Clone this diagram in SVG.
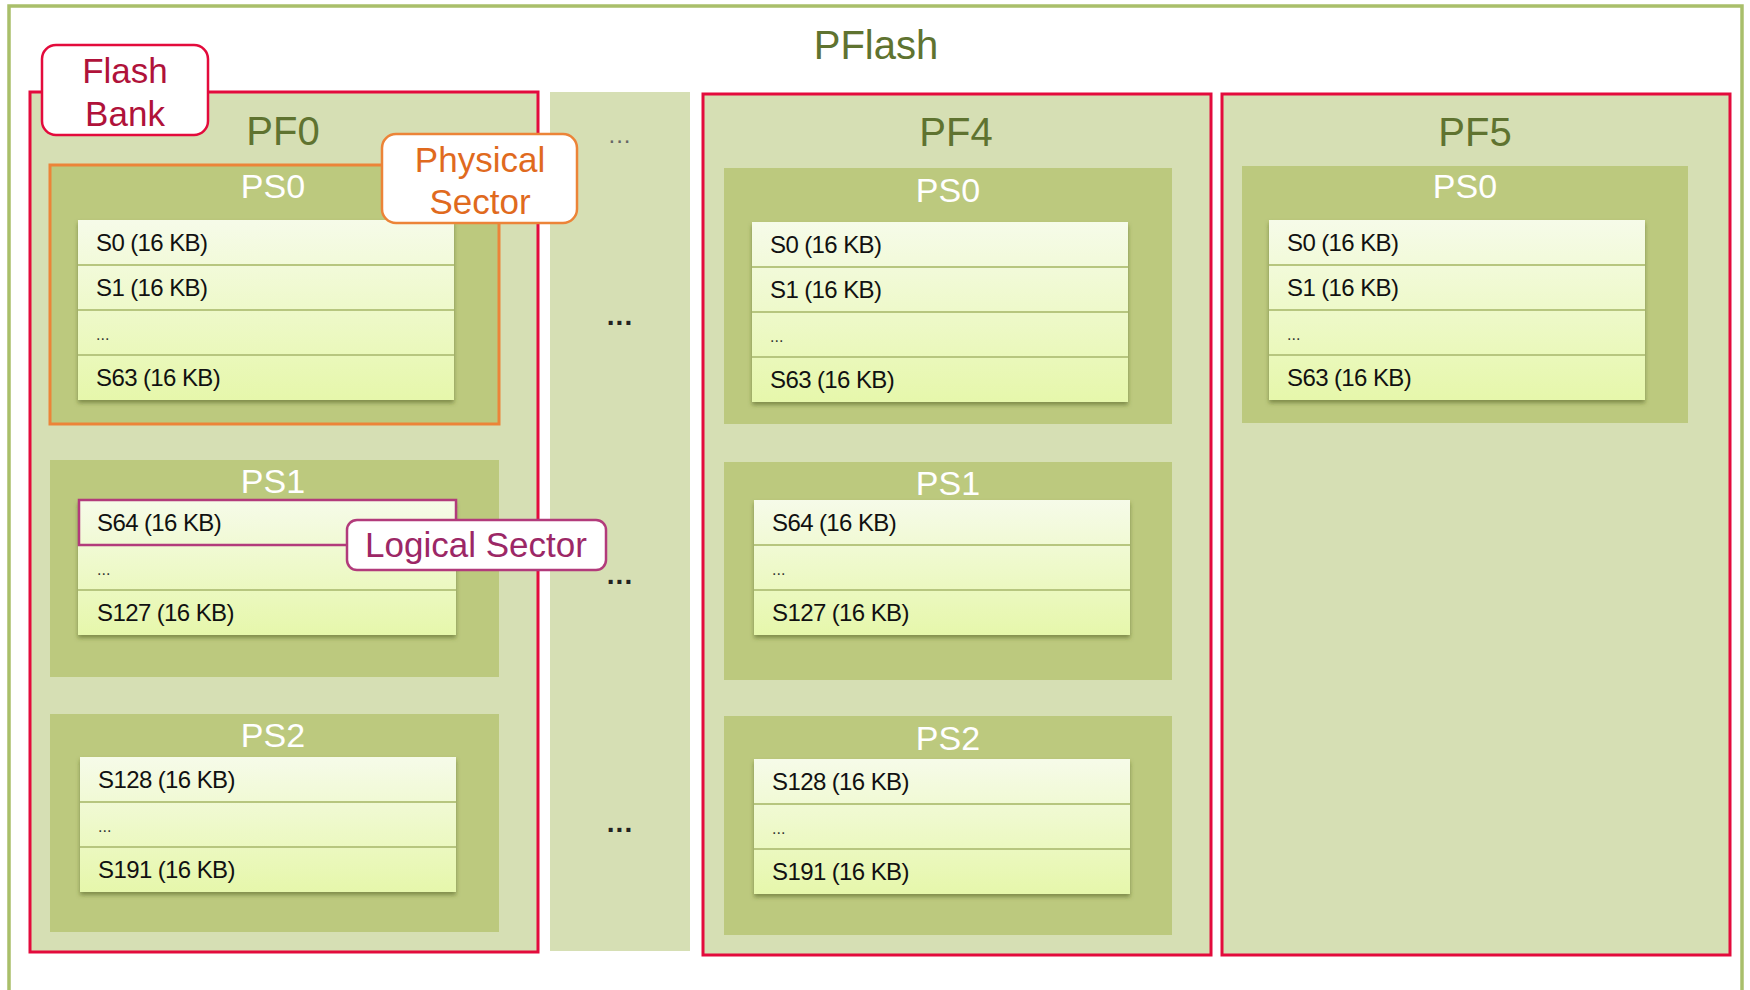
<svg xmlns="http://www.w3.org/2000/svg" width="1750" height="990" viewBox="0 0 1750 990">
<style>
.pale{fill:#d6dfb4}
.bank{fill:#d6dfb4;stroke:#e30b3c;stroke-width:3}
.ps{fill:#bcc97e}
.stackbg{fill:url(#rowgrad);filter:url(#sh)}
.div{stroke:#b7c67f;stroke-width:2}
.t{font-family:"Liberation Sans",Arial,sans-serif}
.title{font-size:40px;fill:#5f7330;text-anchor:middle}
.pslbl{font-size:34px;fill:#ffffff;text-anchor:middle}
.row{font-size:24px;fill:#111111;letter-spacing:-0.6px}
.ell{font-size:16px;fill:#333333}
.dots{font-size:28px;fill:#222222;font-weight:bold;text-anchor:middle;letter-spacing:1px}
.callout{fill:#ffffff;stroke-width:2.5}
.ctext{font-size:35px;text-anchor:middle}
</style>
<defs>
<linearGradient id="rowgrad" x1="0" y1="0" x2="0" y2="1">
<stop offset="0" stop-color="#f6fbe9"/>
<stop offset="1" stop-color="#e6f7ab"/>
</linearGradient>
<filter id="sh" x="-5%" y="-5%" width="110%" height="120%">
<feDropShadow dx="0" dy="3" stdDeviation="2" flood-color="#4d5a20" flood-opacity="0.55"/>
</filter>
</defs>

<rect x="9" y="6" width="1733" height="990" fill="#ffffff" stroke="#a9bf6a" stroke-width="3.5"/>
<text class="t title" x="876" y="59">PFlash</text>

<g id="pf0">
<rect class="bank" x="30" y="92" width="508" height="860"/>
<text class="t title" x="283" y="145">PF0</text>
<g id="pf0-ps0">
<rect class="ps" x="50" y="165" width="449" height="259" stroke="#ec8438" stroke-width="3"/>
<text class="t pslbl" x="273" y="198">PS0</text>
<rect class="stackbg" x="78" y="220" width="376" height="180"/>
<line class="div" x1="78" y1="265" x2="454" y2="265"/>
<line class="div" x1="78" y1="310" x2="454" y2="310"/>
<line class="div" x1="78" y1="355" x2="454" y2="355"/>
<text class="t row" x="96" y="251">S0 (16 KB)</text>
<text class="t row" x="96" y="296">S1 (16 KB)</text>
<text class="t ell" x="96" y="340">...</text>
<text class="t row" x="96" y="386">S63 (16 KB)</text>
</g>
<g id="pf0-ps1">
<rect class="ps" x="50" y="460" width="449" height="217"/>
<text class="t pslbl" x="273" y="493">PS1</text>
<rect class="stackbg" x="78" y="500" width="378" height="135"/>
<line class="div" x1="78" y1="590" x2="456" y2="590"/>
<rect x="79" y="500" width="377" height="45" fill="none" stroke="#b23b7b" stroke-width="2.5"/>
<text class="t row" x="97" y="531">S64 (16 KB)</text>
<text class="t ell" x="97" y="575">...</text>
<text class="t row" x="97" y="621">S127 (16 KB)</text>
</g>
<g id="pf0-ps2">
<rect class="ps" x="50" y="714" width="449" height="218"/>
<text class="t pslbl" x="273" y="747">PS2</text>
<rect class="stackbg" x="80" y="757" width="376" height="135"/>
<line class="div" x1="80" y1="802" x2="456" y2="802"/>
<line class="div" x1="80" y1="847" x2="456" y2="847"/>
<text class="t row" x="98" y="788">S128 (16 KB)</text>
<text class="t ell" x="98" y="832">...</text>
<text class="t row" x="98" y="878">S191 (16 KB)</text>
</g>
</g>

<g id="gap">
<rect class="pale" x="550" y="92" width="140" height="859"/>
<text class="t dots" x="620" y="143" style="fill:#666666;font-weight:normal;font-size:24px">...</text>
<text class="t dots" x="620" y="325">...</text>
<text class="t dots" x="620" y="584">...</text>
<text class="t dots" x="620" y="832">...</text>
</g>

<g id="pf4">
<rect class="bank" x="703" y="94" width="508" height="861"/>
<text class="t title" x="956" y="146">PF4</text>
<g id="pf4-ps0">
<rect class="ps" x="724" y="168" width="448" height="256"/>
<text class="t pslbl" x="948" y="202">PS0</text>
<rect class="stackbg" x="752" y="222" width="376" height="180"/>
<line class="div" x1="752" y1="267" x2="1128" y2="267"/>
<line class="div" x1="752" y1="312" x2="1128" y2="312"/>
<line class="div" x1="752" y1="357" x2="1128" y2="357"/>
<text class="t row" x="770" y="253">S0 (16 KB)</text>
<text class="t row" x="770" y="298">S1 (16 KB)</text>
<text class="t ell" x="770" y="342">...</text>
<text class="t row" x="770" y="388">S63 (16 KB)</text>
</g>
<g id="pf4-ps1">
<rect class="ps" x="724" y="462" width="448" height="218"/>
<text class="t pslbl" x="948" y="495">PS1</text>
<rect class="stackbg" x="754" y="500" width="376" height="135"/>
<line class="div" x1="754" y1="545" x2="1130" y2="545"/>
<line class="div" x1="754" y1="590" x2="1130" y2="590"/>
<text class="t row" x="772" y="531">S64 (16 KB)</text>
<text class="t ell" x="772" y="575">...</text>
<text class="t row" x="772" y="621">S127 (16 KB)</text>
</g>
<g id="pf4-ps2">
<rect class="ps" x="724" y="716" width="448" height="219"/>
<text class="t pslbl" x="948" y="750">PS2</text>
<rect class="stackbg" x="754" y="759" width="376" height="135"/>
<line class="div" x1="754" y1="804" x2="1130" y2="804"/>
<line class="div" x1="754" y1="849" x2="1130" y2="849"/>
<text class="t row" x="772" y="790">S128 (16 KB)</text>
<text class="t ell" x="772" y="834">...</text>
<text class="t row" x="772" y="880">S191 (16 KB)</text>
</g>
</g>

<g id="pf5">
<rect class="bank" x="1222" y="94" width="508" height="861"/>
<text class="t title" x="1475" y="146">PF5</text>
<g id="pf5-ps0">
<rect class="ps" x="1242" y="166" width="446" height="257"/>
<text class="t pslbl" x="1465" y="198">PS0</text>
<rect class="stackbg" x="1269" y="220" width="376" height="180"/>
<line class="div" x1="1269" y1="265" x2="1645" y2="265"/>
<line class="div" x1="1269" y1="310" x2="1645" y2="310"/>
<line class="div" x1="1269" y1="355" x2="1645" y2="355"/>
<text class="t row" x="1287" y="251">S0 (16 KB)</text>
<text class="t row" x="1287" y="296">S1 (16 KB)</text>
<text class="t ell" x="1287" y="340">...</text>
<text class="t row" x="1287" y="386">S63 (16 KB)</text>
</g>
</g>

<g id="callout-flash-bank">
<rect class="callout" x="42" y="45" width="166" height="90" rx="14" stroke="#e30b3c"/>
<text class="t ctext" x="125" y="83" fill="#b0123a">Flash</text>
<text class="t ctext" x="125" y="126" fill="#b0123a">Bank</text>
</g>
<g id="callout-physical-sector">
<rect class="callout" x="382" y="134" width="195" height="89" rx="14" stroke="#ec8438"/>
<text class="t ctext" x="480" y="172" fill="#e06a1e">Physical</text>
<text class="t ctext" x="480" y="214" fill="#e06a1e">Sector</text>
</g>
<g id="callout-logical-sector">
<rect class="callout" x="347" y="520" width="259" height="50" rx="10" stroke="#b23b7b"/>
<text class="t ctext" x="476" y="557" fill="#9c2766">Logical Sector</text>
</g>
<g id="connectors"/>
</svg>
